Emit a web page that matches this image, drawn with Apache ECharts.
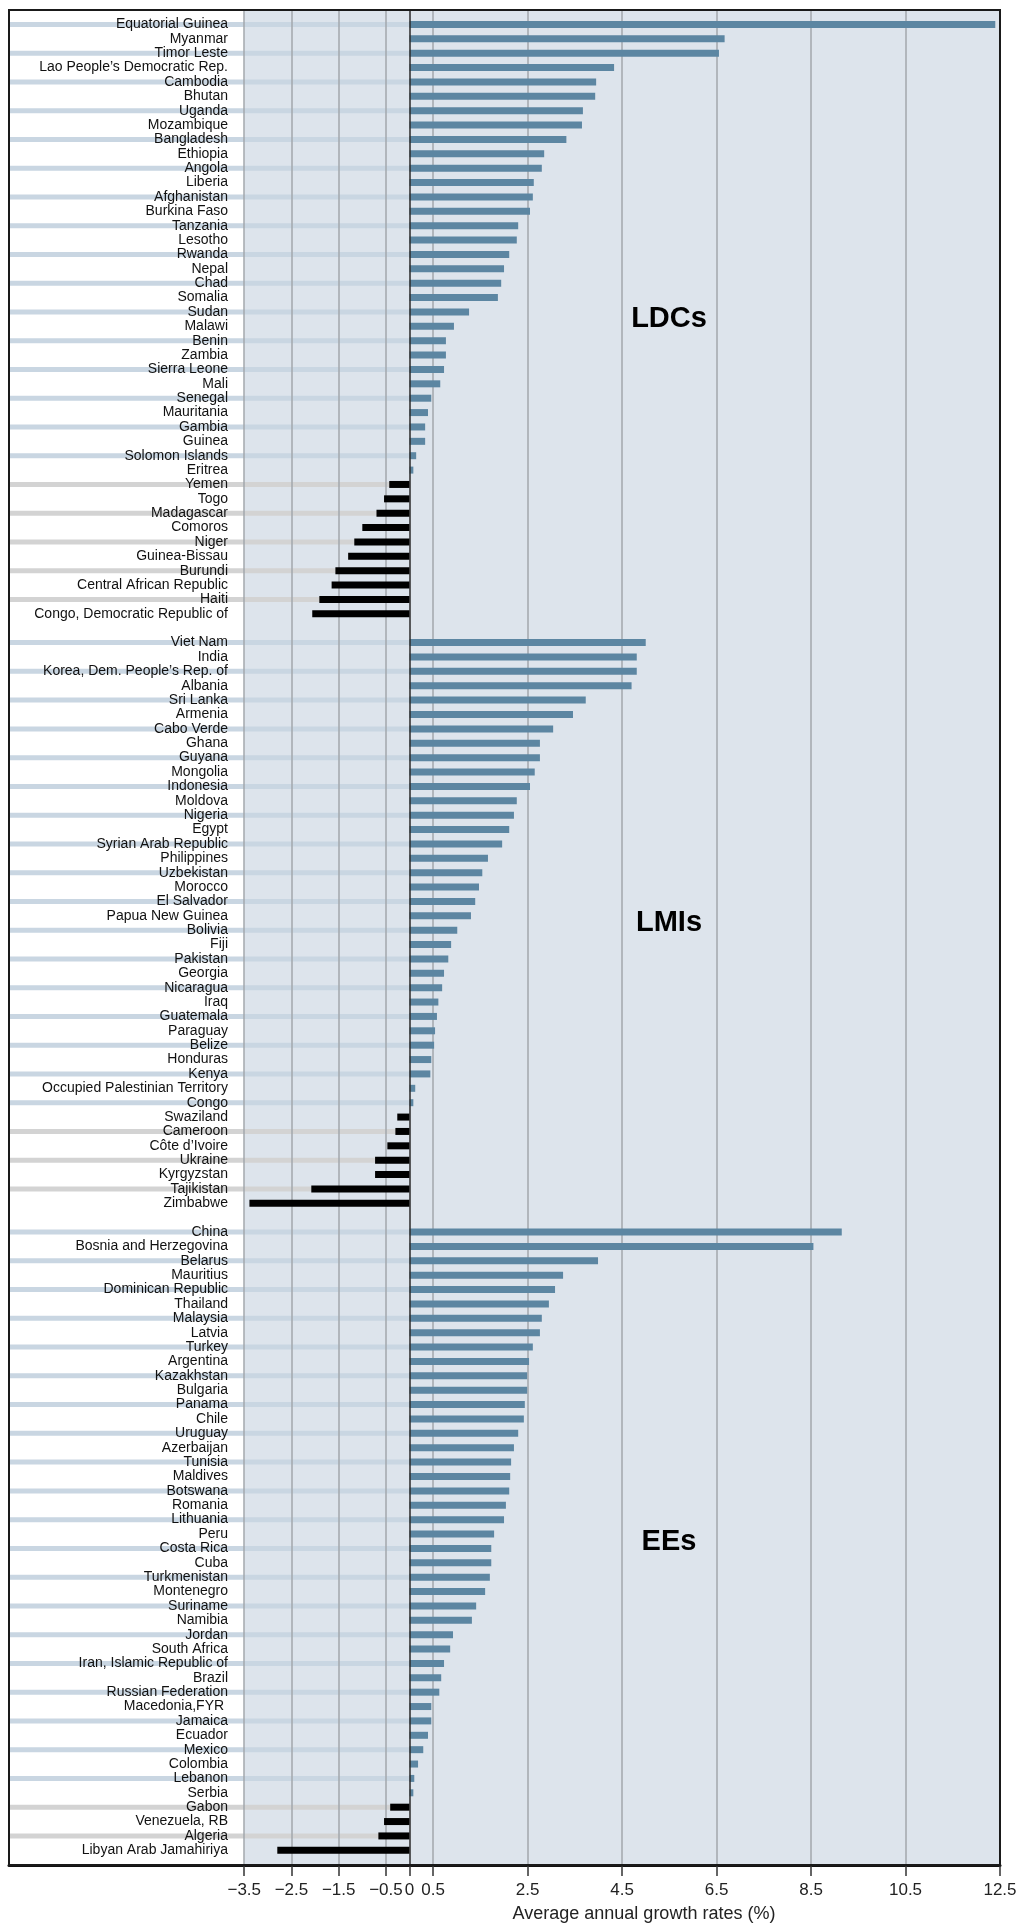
<!DOCTYPE html>
<html><head><meta charset="utf-8">
<script src="https://cdn.jsdelivr.net/npm/echarts@6/dist/echarts.min.js"></script>
<style>html,body{margin:0;padding:0;background:#fff}#c{width:1019px;height:1924px}</style>
</head><body><div id="c"></div>
<script>
// ---------- DATA ----------
const ldcNames = ['Equatorial Guinea','Myanmar','Timor Leste','Lao People\u2019s Democratic Rep.','Cambodia','Bhutan','Uganda','Mozambique','Bangladesh','Ethiopia','Angola','Liberia','Afghanistan','Burkina Faso','Tanzania','Lesotho','Rwanda','Nepal','Chad','Somalia','Sudan','Malawi','Benin','Zambia','Sierra Leone','Mali','Senegal','Mauritania','Gambia','Guinea','Solomon Islands','Eritrea','Yemen','Togo','Madagascar','Comoros','Niger','Guinea-Bissau','Burundi','Central African Republic','Haiti','Congo, Democratic Republic of'];
const ldcValues = [12.40,6.67,6.55,4.33,3.95,3.93,3.67,3.65,3.32,2.85,2.80,2.63,2.61,2.55,2.30,2.27,2.11,2.00,1.94,1.87,1.26,0.94,0.77,0.77,0.73,0.65,0.46,0.39,0.33,0.33,0.14,0.08,-0.43,-0.54,-0.70,-1.00,-1.17,-1.30,-1.57,-1.65,-1.91,-2.06];

const lmiNames = ['Viet Nam','India','Korea, Dem. People\u2019s Rep. of','Albania','Sri Lanka','Armenia','Cabo Verde','Ghana','Guyana','Mongolia','Indonesia','Moldova','Nigeria','Egypt','Syrian Arab Republic','Philippines','Uzbekistan','Morocco','El Salvador','Papua New Guinea','Bolivia','Fiji','Pakistan','Georgia','Nicaragua','Iraq','Guatemala','Paraguay','Belize','Honduras','Kenya','Occupied Palestinian Territory','Congo','Swaziland','Cameroon','C\u00f4te d\u2019Ivoire','Ukraine','Kyrgyzstan','Tajikistan','Zimbabwe'];
const lmiValues = [5.00,4.81,4.81,4.70,3.73,3.46,3.04,2.76,2.76,2.65,2.55,2.27,2.21,2.11,1.96,1.66,1.54,1.47,1.39,1.30,1.01,0.88,0.82,0.73,0.69,0.61,0.58,0.54,0.52,0.46,0.44,0.12,0.08,-0.26,-0.30,-0.47,-0.73,-0.73,-2.08,-3.39];

const eeNames = ['China','Bosnia and Herzegovina','Belarus','Mauritius','Dominican Republic','Thailand','Malaysia','Latvia','Turkey','Argentina','Kazakhstan','Bulgaria','Panama','Chile','Uruguay','Azerbaijan','Tunisia','Maldives','Botswana','Romania','Lithuania','Peru','Costa Rica','Cuba','Turkmenistan','Montenegro','Suriname','Namibia','Jordan','South Africa','Iran, Islamic Republic of','Brazil','Russian Federation','Macedonia,FYR ','Jamaica','Ecuador','Mexico','Colombia','Lebanon','Serbia','Gabon','Venezuela, RB','Algeria','Libyan Arab Jamahiriya'];
const eeValues = [9.15,8.55,3.99,3.25,3.08,2.95,2.80,2.76,2.61,2.53,2.49,2.49,2.44,2.42,2.30,2.21,2.15,2.13,2.11,2.04,2.00,1.79,1.73,1.73,1.70,1.60,1.41,1.32,0.92,0.86,0.73,0.67,0.63,0.46,0.46,0.39,0.29,0.18,0.10,0.08,-0.41,-0.54,-0.66,-2.80];

const tickValues = [-3.5,-2.5,-1.5,-0.5,0,0.5,2.5,4.5,6.5,8.5,10.5,12.5];
const groupLabels = ['LDCs','LMIs','EEs'];
const axisTitle = 'Average annual growth rates (%)';

// ---------- STYLE ----------
const XMIN = -8.48, XMAX = 12.5;
const C_POS = '#5c86a2', C_NEG = '#000000';
const C_BG = '#dde4ec', C_STRIPE_POS = '#c9d6e2', C_STRIPE_NEG = '#d3d3d3';
const C_GRID = '#a2a7ad';
const FONT = '"Liberation Sans", Arial, sans-serif';

// ---------- BUILD ROWS ----------
const groups = [[ldcNames, ldcValues],[lmiNames, lmiValues],[eeNames, eeValues]];
const cats = [], bars = [], stripes = [];
groups.forEach((g, gi) => {
  if (gi > 0) { cats.push(' '.repeat(gi)); bars.push(null); stripes.push(null); }
  g[0].forEach((n, i) => {
    const v = g[1][i];
    cats.push(n);
    bars.push({ value: v, itemStyle: { color: v < 0 ? C_NEG : C_POS } });
    stripes.push(i % 2 === 0 ? { value: XMIN, itemStyle: { color: v < 0 ? C_STRIPE_NEG : C_STRIPE_POS } } : null);
  });
});

const fmt = v => (v < 0 ? '\u2212' + Math.abs(v) : String(v));

const chart = echarts.init(document.getElementById('c'), null, { renderer: 'canvas' });
chart.setOption({
  animation: false,
  backgroundColor: '#ffffff',
  grid: [
    { left: 9, right: 19, top: 10, bottom: 59, outerBoundsMode: 'none', containLabel: false, show: true, z: 10, backgroundColor: 'transparent', borderColor: '#1a1a1a', borderWidth: 2 },
    { left: 9, right: 19, top: 17.2, bottom: 66.5, outerBoundsMode: 'none', containLabel: false }
  ],
  xAxis: [
    { gridIndex: 0, type: 'value', min: XMIN, max: XMAX,
      axisLine: { show: true, onZero: false, lineStyle: { color: '#111', width: 3 } },
      axisTick: { show: true, customValues: tickValues, length: 11, lineStyle: { color: '#333', width: 1.5 } },
      axisLabel: { show: true, customValues: tickValues, formatter: fmt, fontSize: 17, color: '#222', margin: 17, fontFamily: FONT, hideOverlap: false },
      splitLine: { show: false } },
    { gridIndex: 1, type: 'value', min: XMIN, max: XMAX, show: false }
  ],
  yAxis: [
    { gridIndex: 0, type: 'value', min: 0, max: 1, show: false },
    { gridIndex: 1, type: 'category', inverse: true, data: cats, z: 10,
      position: 'left', offset: -227,
      axisLine: { show: false }, axisTick: { show: false },
      axisLabel: { interval: 0, margin: 8, fontSize: 14, color: '#111', fontFamily: FONT } },
    { gridIndex: 1, type: 'category', inverse: true, data: cats, show: false }
  ],
  series: [
    { type: 'scatter', xAxisIndex: 0, yAxisIndex: 0, data: [], z: 1, silent: true,
      markArea: { silent: true, z: 1, itemStyle: { color: C_BG }, data: [[{ xAxis: -3.5 }, { xAxis: 12.5 }]] } },
    { type: 'bar', name: 'stripes', xAxisIndex: 1, yAxisIndex: 2, data: stripes, barWidth: 5, z: 2, silent: true },
    { type: 'scatter', xAxisIndex: 0, yAxisIndex: 0, data: [], z: 3, silent: true,
      markLine: { silent: true, z: 3, symbol: ['none', 'none'], label: { show: false },
        lineStyle: { color: C_GRID, width: 1.5, type: 'solid' },
        data: tickValues.filter(v => v !== 0).map(v => ({ xAxis: v })) } },
    { type: 'bar', name: 'growth', xAxisIndex: 1, yAxisIndex: 1, data: bars, barWidth: 7, z: 4 },
    { type: 'scatter', xAxisIndex: 0, yAxisIndex: 0, data: [], z: 5, silent: true,
      markLine: { silent: true, z: 5, symbol: ['none', 'none'], label: { show: false },
        lineStyle: { color: '#2a2a2a', width: 1.5, type: 'solid' },
        data: [{ xAxis: 0 }] } }
  ],
  graphic: [
    { type: 'text', x: 669, y: 319, style: { text: groupLabels[0], fontSize: 29, fontWeight: 'bold', fontFamily: FONT, fill: '#000', align: 'center', verticalAlign: 'middle' }, z: 20 },
    { type: 'text', x: 669, y: 923, style: { text: groupLabels[1], fontSize: 29, fontWeight: 'bold', fontFamily: FONT, fill: '#000', align: 'center', verticalAlign: 'middle' }, z: 20 },
    { type: 'text', x: 669, y: 1542, style: { text: groupLabels[2], fontSize: 29, fontWeight: 'bold', fontFamily: FONT, fill: '#000', align: 'center', verticalAlign: 'middle' }, z: 20 },
    { type: 'text', x: 644, y: 1914, style: { text: axisTitle, fontSize: 18, fontFamily: FONT, fill: '#222', align: 'center', verticalAlign: 'middle' }, z: 20 }
  ]
});
</script>
</body></html>
